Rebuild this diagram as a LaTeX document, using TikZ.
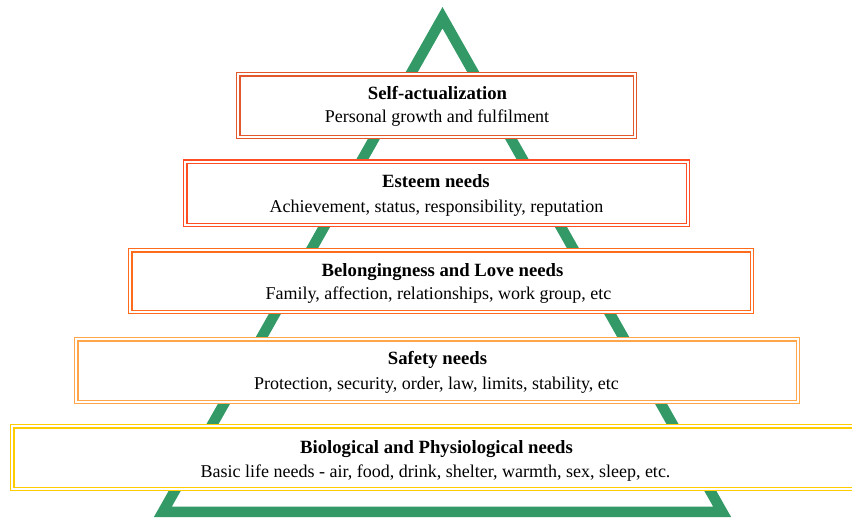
\documentclass[tikz,border=0pt]{standalone}
\usepackage{fontspec}
\setmainfont{Liberation Serif}
\definecolor{tri}{HTML}{339966}
\definecolor{c1}{HTML}{E2582C}
\definecolor{c2}{HTML}{FF4D26}
\definecolor{c3}{HTML}{FF6B1C}
\definecolor{c4}{HTML}{FFA54A}
\definecolor{c5}{HTML}{FFCC00}
\begin{document}
\begin{tikzpicture}[x=1pt,y=-1pt,
  box/.style={draw=#1, double=white, double distance=2pt, line width=1.3pt, fill=white, inner sep=0pt},
  ttl/.style={font=\fontsize{18.7}{22}\selectfont\bfseries, anchor=base, inner sep=0pt},
  sub/.style={font=\fontsize{18}{22}\selectfont, anchor=base, inner sep=0pt}]
\useasboundingbox (0,0) rectangle (852,520);
\coordinate (apex) at (442.5,17.7);
\coordinate (bl) at (162.9,511.75);
\coordinate (br) at (722.1,511.75);
\draw[tri, line width=10.5pt, line join=miter] (apex) -- (br) -- (bl) -- cycle;
\node[box=c1, minimum width=396.6pt, minimum height=62.6pt] (b1) at (436.5,105.5) {};
\node[box=c2, minimum width=502.6pt, minimum height=63.1pt] (b2) at (436.5,193.25) {};
\node[box=c3, minimum width=621.6pt, minimum height=61.6pt] (b3) at (441,281) {};
\node[box=c4, minimum width=721.6pt, minimum height=62.6pt] (b4) at (437,370.5) {};
\node[box=c5, minimum width=857.6pt, minimum height=62.6pt] (b5) at (441,457.5) {};
\node[ttl] (t1) at (437.5,99) {Self-actualization};
\node[sub] (s1) at (437,122) {Personal growth and fulfilment};
\node[ttl] (t2) at (436,187) {Esteem needs};
\node[sub] (s2) at (436.5,212) {Achievement, status, responsibility, reputation};
\node[ttl] (t3) at (442.5,276) {Belongingness and Love needs};
\node[sub] (s3) at (438.5,299) {Family, affection, relationships, work group, etc};
\node[ttl] (t4) at (437.5,364) {Safety needs};
\node[sub] (s4) at (436.5,389) {Protection, security, order, law, limits, stability, etc};
\node[ttl] (t5) at (436.5,453) {Biological and Physiological needs};
\node[sub] (s5) at (435.5,477) {Basic life needs - air, food, drink, shelter, warmth, sex, sleep, etc.};
\end{tikzpicture}
\end{document}
